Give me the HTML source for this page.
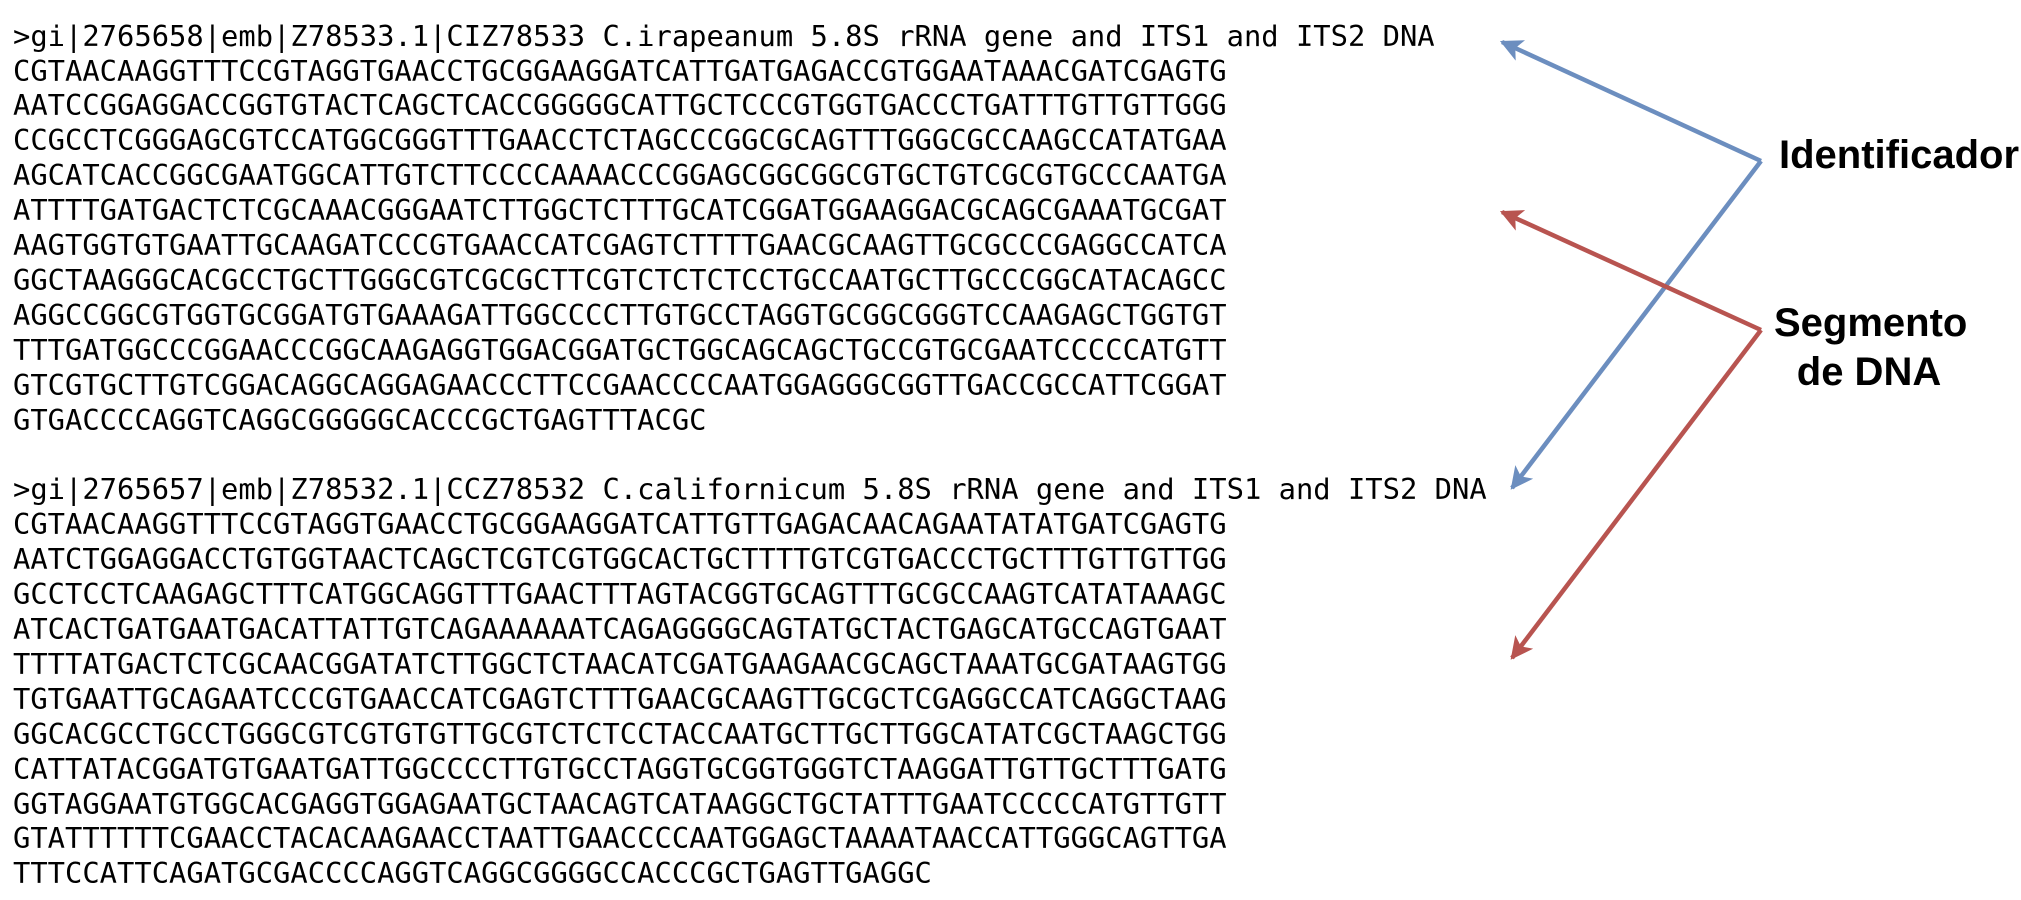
<!DOCTYPE html>
<html><head><meta charset="utf-8"><style>
html,body{margin:0;padding:0;background:#fff;width:2021px;height:900px;overflow:hidden;position:relative}
pre{position:absolute;left:13px;top:18.6px;margin:0;font-family:"DejaVu Sans Mono","Liberation Mono",monospace;font-size:28.8px;line-height:34.9px;color:#000}
.lbl{position:absolute;font-family:"Liberation Sans",Arial,sans-serif;font-weight:bold;font-size:40px;color:#000;line-height:1;white-space:nowrap}
svg{position:absolute;left:0;top:0}
</style></head><body>
<pre>&gt;gi|2765658|emb|Z78533.1|CIZ78533 C.irapeanum 5.8S rRNA gene and ITS1 and ITS2 DNA
CGTAACAAGGTTTCCGTAGGTGAACCTGCGGAAGGATCATTGATGAGACCGTGGAATAAACGATCGAGTG
AATCCGGAGGACCGGTGTACTCAGCTCACCGGGGGCATTGCTCCCGTGGTGACCCTGATTTGTTGTTGGG
CCGCCTCGGGAGCGTCCATGGCGGGTTTGAACCTCTAGCCCGGCGCAGTTTGGGCGCCAAGCCATATGAA
AGCATCACCGGCGAATGGCATTGTCTTCCCCAAAACCCGGAGCGGCGGCGTGCTGTCGCGTGCCCAATGA
ATTTTGATGACTCTCGCAAACGGGAATCTTGGCTCTTTGCATCGGATGGAAGGACGCAGCGAAATGCGAT
AAGTGGTGTGAATTGCAAGATCCCGTGAACCATCGAGTCTTTTGAACGCAAGTTGCGCCCGAGGCCATCA
GGCTAAGGGCACGCCTGCTTGGGCGTCGCGCTTCGTCTCTCTCCTGCCAATGCTTGCCCGGCATACAGCC
AGGCCGGCGTGGTGCGGATGTGAAAGATTGGCCCCTTGTGCCTAGGTGCGGCGGGTCCAAGAGCTGGTGT
TTTGATGGCCCGGAACCCGGCAAGAGGTGGACGGATGCTGGCAGCAGCTGCCGTGCGAATCCCCCATGTT
GTCGTGCTTGTCGGACAGGCAGGAGAACCCTTCCGAACCCCAATGGAGGGCGGTTGACCGCCATTCGGAT
GTGACCCCAGGTCAGGCGGGGGCACCCGCTGAGTTTACGC

&gt;gi|2765657|emb|Z78532.1|CCZ78532 C.californicum 5.8S rRNA gene and ITS1 and ITS2 DNA
CGTAACAAGGTTTCCGTAGGTGAACCTGCGGAAGGATCATTGTTGAGACAACAGAATATATGATCGAGTG
AATCTGGAGGACCTGTGGTAACTCAGCTCGTCGTGGCACTGCTTTTGTCGTGACCCTGCTTTGTTGTTGG
GCCTCCTCAAGAGCTTTCATGGCAGGTTTGAACTTTAGTACGGTGCAGTTTGCGCCAAGTCATATAAAGC
ATCACTGATGAATGACATTATTGTCAGAAAAAATCAGAGGGGCAGTATGCTACTGAGCATGCCAGTGAAT
TTTTATGACTCTCGCAACGGATATCTTGGCTCTAACATCGATGAAGAACGCAGCTAAATGCGATAAGTGG
TGTGAATTGCAGAATCCCGTGAACCATCGAGTCTTTGAACGCAAGTTGCGCTCGAGGCCATCAGGCTAAG
GGCACGCCTGCCTGGGCGTCGTGTGTTGCGTCTCTCCTACCAATGCTTGCTTGGCATATCGCTAAGCTGG
CATTATACGGATGTGAATGATTGGCCCCTTGTGCCTAGGTGCGGTGGGTCTAAGGATTGTTGCTTTGATG
GGTAGGAATGTGGCACGAGGTGGAGAATGCTAACAGTCATAAGGCTGCTATTTGAATCCCCCATGTTGTT
GTATTTTTTCGAACCTACACAAGAACCTAATTGAACCCCAATGGAGCTAAAATAACCATTGGGCAGTTGA
TTTCCATTCAGATGCGACCCCAGGTCAGGCGGGGCCACCCGCTGAGTTGAGGC</pre>
<svg width="2021" height="900">
<defs>
<marker id="hb" viewBox="0 0 10 10" refX="9" refY="5" markerWidth="5" markerHeight="5" orient="auto" markerUnits="strokeWidth"><path d="M0,0 L10,5 L0,10 L2.5,5 z" fill="#6c8ebf"/></marker>
<marker id="hr" viewBox="0 0 10 10" refX="9" refY="5" markerWidth="5" markerHeight="5" orient="auto" markerUnits="strokeWidth"><path d="M0,0 L10,5 L0,10 L2.5,5 z" fill="#b85450"/></marker>
</defs>
<line x1="1761" y1="161" x2="1502" y2="42" stroke="#6c8ebf" stroke-width="4.5" marker-end="url(#hb)"/>
<line x1="1761" y1="161" x2="1512" y2="488" stroke="#6c8ebf" stroke-width="4.5" marker-end="url(#hb)"/>
<line x1="1761" y1="330" x2="1502" y2="212" stroke="#b85450" stroke-width="4.5" marker-end="url(#hr)"/>
<line x1="1761" y1="330" x2="1512" y2="658" stroke="#b85450" stroke-width="4.5" marker-end="url(#hr)"/>
</svg>
<div class="lbl" style="left:1779px;top:135px">Identificador</div>
<div class="lbl" style="left:1774px;top:299px;text-align:center;line-height:49px;width:190px">Segmento<br>de DNA</div>
</body></html>
